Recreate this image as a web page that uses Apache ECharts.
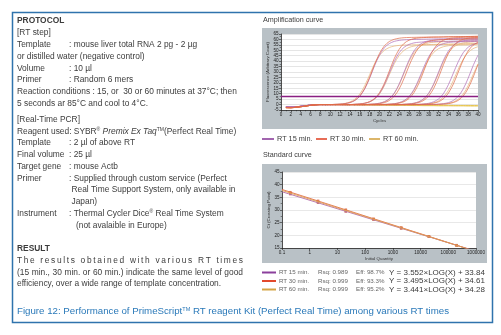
<!DOCTYPE html>
<html><head><meta charset="utf-8">
<script src="https://cdn.jsdelivr.net/npm/echarts@6/dist/echarts.min.js"></script>
<style>html,body{margin:0;padding:0;background:#fff}#c{width:501px;height:335px}</style>
</head><body><div id="c"></div>
<script>
// ---------------- DATA ----------------
const cycles = [1,2,3,4,5,6,7,8,9,10,11,12,13,14,15,16,17,18,19,20,21,22,23,24,25,26,27,28,29,30,31,32,33,34,35,36,37,38,39,40];
const threshold = 8;
const rt15Curves = [
 [-2.2,-2.4,-2.1,-1.6,-1.0,-0.5,-0.1, 0,0,0, 0.2,0.4,0.9,1.8,3.8,7.7,14.4,24.3,35.7,45.6,52.4,56.2,58.2,59.1,59.6,59.8, 60.0,60.1,60.2,60.3,60.4,60.5,60.6,60.7,60.8,60.9,61.0,61.1,61.2,61.3],
 [-2.2,-2.4,-2.1,-1.6,-1.0,-0.5,-0.1, 0,0,0,0,0,0,0, 0.3,0.6,1.2,2.6,5.2,10.2,18.4,29.0,39.6,47.8,52.8,55.4,56.8,57.4,57.7,57.9, 58.0,58.1,58.2,58.3,58.4,58.5,58.6,58.7,58.8,58.9],
 [-2.2,-2.4,-2.1,-1.6,-1.0,-0.5,-0.1, 0,0,0,0,0, 0,0,0,0,0, 0.3,0.6,1.3,2.6,5.4,10.6,19.0,30.0,41.0,49.4,54.6,57.4,58.7,59.4,59.7,59.9, 60.0,60.1,60.2,60.3,60.4,60.5,60.6],
 [-2.2,-2.4,-2.1,-1.6,-1.0,-0.5,-0.1, 0,0,0,0,0, 0,0,0,0,0, 0,0,0, 0.2,0.4,0.8,1.8,3.7,7.4,13.9,23.5,34.5,44.1,50.6,54.3,56.2,57.2,57.6,57.8, 57.9,58.0,58.1,58.2],
 [-2.2,-2.4,-2.1,-1.6,-1.0,-0.5,-0.1, 0,0,0,0,0, 0,0,0,0,0, 0,0,0,0,0, 0,0, 0.3,0.6,1.3,2.6,5.4,10.6,19.0,30.0,41.0,49.4,54.6,57.4,58.7,59.4,59.7,59.9],
 [-2.2,-2.4,-2.1,-1.6,-1.0,-0.5,-0.1, 0,0,0,0,0, 0,0,0,0,0, 0,0,0,0,0, 0,0,0,0,0, 0.3,0.6,1.2,2.6,5.2,10.2,18.4,29.0,39.6,47.8,52.8,55.4,56.8],
 [-2.2,-2.4,-2.1,-1.6,-1.0,-0.5,-0.1, 0,0,0,0,0, 0,0,0,0,0, 0,0,0,0,0, 0,0,0,0,0, 0,0,0, 0.2,0.4,0.9,1.8,3.8,7.7,14.4,24.3,35.7,45.6]
];
const rt30Curves = [
 [-2.8,-2.9,-2.5,-2.0,-1.4,-0.7,-0.2, 0,0,0, 0.2,0.4,0.9,1.9,3.9,7.9,14.9,25.1,36.9,47.1,54.1,58.1,60.1,61.1,61.6,61.8,61.9, 62.0,62.1,62.2,62.3,62.3,62.4,62.5,62.5,62.6,62.6,62.7,62.7,62.8],
 [-2.8,-2.9,-2.5,-2.0,-1.4,-0.7,-0.2, 0,0,0,0,0,0,0, 0.3,0.6,1.3,2.7,5.6,11.0,19.6,31.0,42.4,51.0,56.4,59.3,60.7,61.4,61.7,61.9, 62.0,62.1,62.2,62.3,62.4,62.5,62.6,62.7,62.8,62.9],
 [-2.8,-2.9,-2.5,-2.0,-1.4,-0.7,-0.2, 0,0,0,0,0, 0,0,0,0,0, 0.2,0.4,0.9,1.8,3.8,7.7,14.4,24.3,35.7,45.6,52.4,56.2,58.2,59.1,59.6,59.8, 60.0,60.1,60.2,60.3,60.4,60.5,60.6],
 [-2.8,-2.9,-2.5,-2.0,-1.4,-0.7,-0.2, 0,0,0,0,0, 0,0,0,0,0, 0,0,0,0, 0.3,0.6,1.3,2.7,5.6,11.0,19.6,31.0,42.4,51.0,56.4,59.3,60.7,61.4,61.7,61.9, 62.0,62.1,62.2],
 [-2.8,-2.9,-2.5,-2.0,-1.4,-0.7,-0.2, 0,0,0,0,0, 0,0,0,0,0, 0,0,0,0,0, 0,0, 0.2,0.4,0.9,1.9,3.9,7.9,14.9,25.1,36.9,47.1,54.1,58.1,60.1,61.1,61.6,61.8],
 [-2.8,-2.9,-2.5,-2.0,-1.4,-0.7,-0.2, 0,0,0,0,0, 0,0,0,0,0, 0,0,0,0,0, 0,0,0,0,0, 0, 0.3,0.6,1.3,2.6,5.4,10.6,19.0,30.0,41.0,49.4,54.6,57.4],
 [-2.8,-2.9,-2.5,-2.0,-1.4,-0.7,-0.2, 0,0,0,0,0, 0,0,0,0,0, 0,0,0,0,0, 0,0,0,0,0, 0,0,0,0, 0.2,0.4,0.9,1.9,3.9,7.9,14.9,25.1,36.9]
];
const rt60Curves = [
 [-2.4,-2.5,-2.2,-1.7,-1.1,-0.5,-0.1, 0,0,0, 0.2,0.5,1.1,2.4,5.0,9.7,17.4,27.5,37.6,45.3,50.0,52.6,53.9,54.5,54.8,54.9, 55.0,55.1,55.2,55.3,55.4,55.5,55.6,55.7,55.8,55.9,56.0,56.1,56.2,56.3],
 [-2.4,-2.5,-2.2,-1.7,-1.1,-0.5,-0.1, 0,0,0,0,0,0,0, 0.2,0.5,1.1,2.4,5.0,9.7,17.4,27.5,37.6,45.3,50.0,52.6,53.9,54.5,54.8,54.9, 55.0,55.1,55.2,55.3,55.4,55.5,55.6,55.7,55.8,55.9],
 [-2.4,-2.5,-2.2,-1.7,-1.1,-0.5,-0.1, 0,0,0,0,0, 0,0,0,0,0, 0.3,0.6,1.2,2.6,5.2,10.2,18.4,29.0,39.6,47.8,52.8,55.4,56.8,57.4,57.7,57.9, 58.0,58.1,58.2,58.3,58.4,58.5,58.6],
 [-2.4,-2.5,-2.2,-1.7,-1.1,-0.5,-0.1, 0,0,0,0,0, 0,0,0,0,0, 0,0,0, 0.2,0.4,0.8,1.7,3.5,7.0,13.2,22.3,32.7,41.8,48.0,51.5,53.3,54.2,54.6,54.8, 54.9,55.0,55.1,55.2],
 [-2.4,-2.5,-2.2,-1.7,-1.1,-0.5,-0.1, 0,0,0,0,0, 0,0,0,0,0, 0,0,0,0,0, 0,0, 0.3,0.6,1.2,2.6,5.2,10.2,18.4,29.0,39.6,47.8,52.8,55.4,56.8,57.4,57.7,57.9],
 [-2.4,-2.5,-2.2,-1.7,-1.1,-0.5,-0.1, 0,0,0,0,0, 0,0,0,0,0, 0,0,0,0,0, 0,0,0,0,0, 0.2,0.4,0.8,1.7,3.5,7.0,13.2,22.3,32.7,41.8,48.0,51.5,53.3],
 [-2.4,-2.5,-2.2,-1.7,-1.1,-0.5,-0.1, 0,0,0,0,0, 0,0,0,0,0, 0,0,0,0,0, 0,0,0,0,0, 0,0,0,0, 0.2,0.5,1.1,2.4,5.0,9.7,17.4,27.5,37.6]
];
const ntcCurves = [
 [-2.4,-2.5,-2.2,-1.7,-1.1,-0.5,-0.1, 0,0,0,-0.1,-0.1,-0.2,-0.2,-0.3,-0.3,-0.4,-0.4,-0.5,-0.5,-0.6,-0.6,-0.7,-0.7,-0.8,-0.8,-0.9,-0.9,-1.0,-1.0,-1.0,-1.1,-1.1,-1.1,-1.2,-1.2,-1.2,-1.3,-1.3,-1.3],
 [-2.4,-2.5,-2.2,-1.7,-1.1,-0.5,-0.1, 0,0,0,0,0,-0.1,-0.1,-0.1,-0.2,-0.2,-0.2,-0.3,-0.3,-0.3,-0.4,-0.4,-0.4,-0.5,-0.5,-0.5,-0.6,-0.6,-0.6,-0.7,-0.7,-0.7,-0.7,-0.8,-0.8,-0.8,-0.8,-0.9,-0.9]
];

const stdQuantity = [0.2, 2, 20, 200, 2000, 20000, 200000];
const stdCt15 = [36.3, 32.9, 29.4, 26.2, 22.7, 19.5, 16.0];
const stdCt30 = [37.0, 33.6, 30.1, 26.5, 23.1, 19.6, 16.1];
const stdCt60 = [36.7, 33.2, 29.8, 26.4, 22.9, 19.5, 16.0];
const fitSlope = [3.352, 3.495, 3.441];
const fitIntercept = [33.84, 34.61, 34.28];
const fitRange = [0.1, 1000000];

const seriesNames = ['RT 15 min.', 'RT 30 min.', 'RT 60 min.'];
const rsqLabels = ['Rsq: 0.989', 'Rsq: 0.999', 'Rsq: 0.999'];
const effLabels = ['Eff: 98.7%', 'Eff: 93.3%', 'Eff: 95.2%'];
const eqLabels = ['Y = 3.552\u00d7LOG(X) + 33.84', 'Y = 3.495\u00d7LOG(X) + 34.61', 'Y = 3.441\u00d7LOG(X) + 34.28'];

// ---------------- STYLE / LAYOUT ----------------
const FONT = "'Liberation Sans', Arial, Helvetica, sans-serif";
const TXT = '#3c3c3c';
const legendColors = ['#8b3f9c', '#e2492c', '#d4a445'];
const curveColors = ['#b06cb6', '#e06a48', '#e6b275'];
const ntcColor = '#e8c650';
const fitColors = ['#b36aa8', '#e36b45', '#dda257'];
const pointColors = ['#b9505a', '#d9623c', '#d89a52'];

const mctx = document.createElement('canvas').getContext('2d');
function measure(t, size, weight) { mctx.font = (weight || 'normal') + ' ' + size + 'px ' + FONT; return mctx.measureText(t).width; }
function rs(size, extra) { return Object.assign({ fontSize: size, fontFamily: FONT, fill: TXT }, extra || {}); }
function txt(x, y, text, o) {
  o = o || {};
  const size = o.size || 8.4;
  const st = { text: text, fontSize: size, fontFamily: FONT, fontWeight: o.bold ? 'bold' : 'normal',
    fill: o.color || TXT, align: o.align || 'left', verticalAlign: 'middle', textAlign: o.align || 'left', textVerticalAlign: 'middle' };
  if (o.rich) st.rich = o.rich;
  return { type: 'text', x: x, y: y, z: 5, silent: true, style: st };
}
const FS = 8.4;
const richL = { it: rs(FS, { fontStyle: 'italic' }), sup: rs(5, { verticalAlign: 'top' }) };

const g = [];
// gray panels & frame
g.push({ type: 'rect', z: -10, silent: true, shape: { x: 262, y: 28, width: 225, height: 101 }, style: { fill: '#b9c1c6' } });
g.push({ type: 'rect', z: -10, silent: true, shape: { x: 262, y: 164, width: 225, height: 99 }, style: { fill: '#b9c1c6' } });
g.push({ type: 'rect', z: 10, silent: true, shape: { x: 12.5, y: 12.5, width: 480, height: 310 }, style: { fill: 'none', stroke: '#2f73ad', lineWidth: 1.5 } });

// left column text
const LX = 17, CX = 69;
const top1 = 21, step = 11.8;
const rows1 = [
  [LX, 'PROTOCOL', { bold: true }],
  [LX, '[RT step]'],
  [LX, 'Template', null, ': mouse liver total RNA 2 pg - 2 \u00b5g'],
  [LX, 'or distilled water (negative control)'],
  [LX, 'Volume', null, ': 10 \u00b5l'],
  [LX, 'Primer', null, ': Random 6 mers'],
  [LX, 'Reaction conditions : 15, or  30 or 60 minutes at 37\u00b0C; then'],
  [LX, '5 seconds ar 85\u00b0C and cool to 4\u00b0C.']
];
rows1.forEach((r, i) => {
  const y = top1 + i * step;
  g.push(txt(r[0], y, r[1], Object.assign({ size: FS }, r[2] || {})));
  if (r[3]) g.push(txt(CX, y, r[3], { size: FS }));
});
const top2 = 119.5, step2 = 11.76;
const rows2 = [
  [LX, '[Real-Time PCR]'],
  [LX, 'Reagent used: SYBR{sup|\u00ae} {it|Premix Ex Taq}{sup|TM}(Perfect Real Time)', true],
  [LX, 'Template', false, ': 2 \u00b5l of above RT'],
  [LX, 'Final volume', false, ': 25 \u00b5l'],
  [LX, 'Target gene', false, ': mouse Actb'],
  [LX, 'Primer', false, ': Supplied through custom service (Perfect'],
  [CX + 2.5, 'Real Time Support System, only available in'],
  [CX + 2.5, 'Japan)'],
  [LX, 'Instrument', false, ': Thermal Cycler Dice{sup|\u00ae} Real Time System'],
  [CX + 7, '(not avalaible in Europe)']
];
rows2.forEach((r, i) => {
  const y = top2 + i * step2;
  g.push(txt(r[0], y, r[1], { size: FS, rich: r[2] ? richL : null }));
  if (r[3]) g.push(txt(CX, y, r[3], { size: FS, rich: richL }));
});
g.push(txt(LX, 249, 'RESULT', { size: FS, bold: true }));
// letter-spaced justified line
(function () {
  const s = 'The results obtained with various RT times';
  const x0 = LX, x1 = 243;
  const chars = s.split('');
  const ws = chars.map(c => measure(c, FS));
  const total = ws.reduce((a, b) => a + b, 0);
  const extra = (x1 - x0 - total) / (chars.length - 1);
  let x = x0;
  chars.forEach((c, i) => { if (c !== ' ') g.push(txt(x, 260.7, c, { size: FS })); x += ws[i] + extra; });
})();
(function () {
  const s = '(15 min., 30 min. or 60 min.) indicate the same level of good';
  const words = s.split(' ');
  const x0 = LX, x1 = 243;
  const ws = words.map(w => measure(w, FS));
  const total = ws.reduce((a, b) => a + b, 0);
  let gap = (x1 - x0 - total) / (words.length - 1);
  const sp = measure(' ', FS);
  if (gap < sp) gap = sp;
  let x = x0;
  words.forEach((w, i) => { g.push(txt(x, 272.2, w, { size: FS })); x += ws[i] + gap; });
})();
g.push(txt(LX, 283.7, 'efficiency, over a wide range of template concentration.', { size: FS }));

// caption
g.push(txt(LX, 311, 'Figure 12: Performance of PrimeScript{sup|TM} RT reagent Kit (Perfect Real Time) among various RT times',
  { size: 9.7, color: '#2a79b9', rich: { sup: rs(5.5, { verticalAlign: 'top', fill: '#2a79b9' }) } }));

// right-side titles
g.push(txt(263, 20.5, 'Amplification curve', { size: 7.2 }));
g.push(txt(263, 155, 'Standard curve', { size: 7.2 }));

// amplification legend
const legX = [[262, 274, 277], [316, 327, 330], [369, 380, 383]];
legX.forEach((p, i) => {
  g.push({ type: 'line', z: 5, silent: true, shape: { x1: p[0], y1: 139, x2: p[1], y2: 139 }, style: { stroke: legendColors[i], lineWidth: 1.6 } });
  g.push(txt(p[2], 139, seriesNames[i], { size: 7.3 }));
});
// equation legend
const eqY = [272.5, 281, 289.5];
eqY.forEach((y, i) => {
  g.push({ type: 'line', z: 5, silent: true, shape: { x1: 262, y1: y, x2: 276, y2: y }, style: { stroke: legendColors[i], lineWidth: 2 } });
  g.push(txt(279, y, seriesNames[i], { size: 6.2, color: '#666' }));
  g.push(txt(318, y, rsqLabels[i], { size: 6.2, color: '#666' }));
  g.push(txt(356, y, effLabels[i], { size: 6.2, color: '#666' }));
  g.push(txt(389, y, eqLabels[i], { size: 8.0, color: '#3a3a3a' }));
});

// debug: data length check
[].concat(rt15Curves, rt30Curves, rt60Curves, ntcCurves).forEach((a, i) => {
  if (a.length !== cycles.length) g.push(txt(300, 60 + i * 6, 'LEN ERR ' + i + ':' + a.length, { size: 6, color: '#f00' }));
});

// ---------------- SERIES ----------------
const series = [];
function ampSeries(arr, color, extra) {
  return Object.assign({ type: 'line', xAxisIndex: 0, yAxisIndex: 0, data: cycles.map((c, i) => [c, arr[i]]),
    showSymbol: false, symbol: 'none', smooth: 0.3, silent: true,
    lineStyle: { color: color, width: 0.7 } }, extra || {});
}
ntcCurves.forEach(a => series.push(ampSeries(a, ntcColor, { lineStyle: { color: ntcColor, width: 1 } })));
rt60Curves.forEach(a => series.push(ampSeries(a, curveColors[2])));
rt15Curves.forEach(a => series.push(ampSeries(a, curveColors[0])));
rt30Curves.forEach((a, i) => series.push(ampSeries(a, curveColors[1], i === rt30Curves.length - 1 ? {
  markLine: { silent: true, symbol: ['none', 'none'], label: { show: false },
    lineStyle: { color: '#8a1f82', width: 1.3, type: 'solid' }, data: [{ yAxis: threshold }] }
} : null)));

// standard curve
const stdCts = [stdCt15, stdCt30, stdCt60];
[0, 1, 2].forEach(k => {
  series.push({ type: 'line', xAxisIndex: 1, yAxisIndex: 1, silent: true, showSymbol: false, symbol: 'none',
    data: fitRange.map(x => [x, fitIntercept[k] - fitSlope[k] * Math.log10(x)]),
    lineStyle: { color: fitColors[k], width: 0.9 } });
});
[0, 1, 2].forEach(k => {
  series.push({ type: 'scatter', xAxisIndex: 1, yAxisIndex: 1, silent: true, symbol: 'rect', symbolSize: 2.6,
    data: stdQuantity.map((x, i) => [x, stdCts[k][i]]),
    itemStyle: { color: pointColors[k] } });
});

// ---------------- AXES ----------------
const axLine = { show: true, onZero: false, lineStyle: { color: '#222', width: 0.8 } };
const axTick = { show: true, length: 2, lineStyle: { color: '#222', width: 0.6 } };
const axLabel = { fontSize: 4.6, color: '#222', fontFamily: FONT, margin: 2.5 };
const nameStyle = { fontSize: 4.4, color: '#333', fontFamily: FONT };

const option = {
  animation: false,
  backgroundColor: '#ffffff',
  grid: [
    { left: 281, top: 34, width: 197, height: 76, show: true, backgroundColor: '#ffffff', borderWidth: 0, containLabel: false, outerBoundsMode: 'none' },
    { left: 282, top: 172, width: 194, height: 76, show: true, backgroundColor: '#ffffff', borderWidth: 0, containLabel: false, outerBoundsMode: 'none' }
  ],
  xAxis: [
    { type: 'value', gridIndex: 0, min: 0, max: 40, interval: 2, axisLine: axLine, axisTick: axTick,
      minorTick: { show: true, splitNumber: 2, length: 1.3, lineStyle: { color: '#222', width: 0.5 } },
      axisLabel: axLabel, splitLine: { show: false }, name: 'Cycles', nameLocation: 'middle', nameGap: 9, nameTextStyle: nameStyle },
    { type: 'log', logBase: 10, gridIndex: 1, min: 0.1, max: 1000000, interval: 1, axisLine: axLine, axisTick: axTick,
      axisLabel: Object.assign({}, axLabel, { formatter: v => String(+Number(v).toPrecision(6)) }),
      splitLine: { show: false }, name: 'Initial Quantity', nameLocation: 'middle', nameGap: 9, nameTextStyle: nameStyle }
  ],
  yAxis: [
    { type: 'value', gridIndex: 0, min: -5, max: 65, interval: 5, axisLine: axLine, axisTick: axTick,
      minorTick: { show: true, splitNumber: 2, length: 1.3, lineStyle: { color: '#222', width: 0.5 } },
      axisLabel: axLabel, splitLine: { show: true, lineStyle: { color: '#d4d4d4', width: 0.6 } },
      name: 'Fluorescence (Arbitrary Count)', nameLocation: 'middle', nameGap: 11, nameRotate: 90, nameTextStyle: nameStyle },
    { type: 'value', gridIndex: 1, min: 15, max: 45, interval: 5, axisLine: axLine, axisTick: axTick,
      minorTick: { show: true, splitNumber: 2, length: 1.3, lineStyle: { color: '#222', width: 0.5 } },
      axisLabel: axLabel, splitLine: { show: true, lineStyle: { color: '#d8d8d8', width: 0.6 } },
      name: 'Ct (Crossing Point)', nameLocation: 'middle', nameGap: 11, nameRotate: 90, nameTextStyle: nameStyle }
  ],
  series: series,
  graphic: { elements: g }
};
const chart = echarts.init(document.getElementById('c'), null, { renderer: 'canvas', width: 501, height: 335 });
chart.setOption(option);
</script>
</body></html>
